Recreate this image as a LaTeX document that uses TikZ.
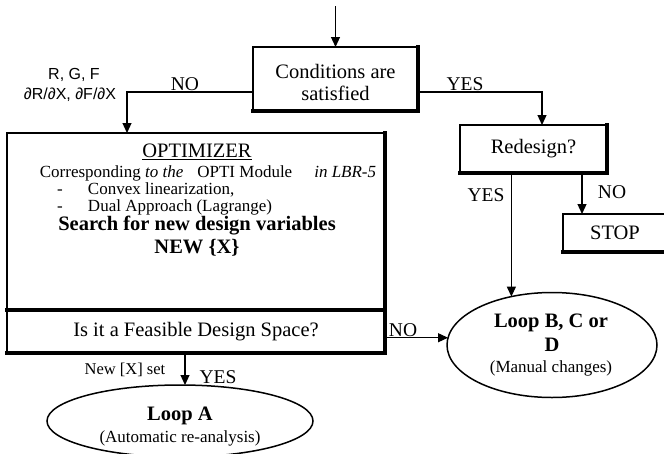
\documentclass[tikz,border=0pt]{standalone}
\usepackage{fontspec}
\setmainfont{Liberation Serif}
\newfontfamily\labelsans{Liberation Sans}
\usetikzlibrary{shapes.geometric,arrows.meta}

\begin{document}
\begin{tikzpicture}[x=1pt,y=-1pt,
  every node/.style={inner sep=0pt, outer sep=0pt},
  big/.style={font=\fontsize{20.5}{22}\selectfont},
  bigb/.style={font=\fontsize{20.5}{22}\selectfont\bfseries},
  mid/.style={font=\fontsize{17}{20}\selectfont},
  sml/.style={font=\fontsize{16.5}{19}\selectfont},
  lbl/.style={font=\fontsize{19.5}{22}\selectfont},
  boxframe/.style={draw, line width=2pt, rectangle},
  heavy/.style={line width=3.6pt, line cap=rect},
  oval/.style={draw, ellipse, line width=1.5pt},
  flow/.style={line width=1.2pt, -{Triangle[length=10pt,width=9pt]}},
]
\useasboundingbox (0,0) rectangle (664,453);
\clip (0,0) rectangle (664,453);

% ---- boxes ----
\node[boxframe, minimum width=165pt, minimum height=64pt] (cond) at (335.5,79) {};
\node[big, align=center] (condtxt) at (335.5,82) {Conditions are\\satisfied};

\node[boxframe, minimum width=378pt, minimum height=177pt] (opt) at (196,221.5) {};
\node[boxframe, minimum width=378pt, minimum height=43pt] (feas) at (196,331.5) {};

\node[boxframe, minimum width=147pt, minimum height=48pt] (redesign) at (533.5,149) {};
\node[big] (redesigntxt) at (533.5,149) {Redesign?};

\node[boxframe, minimum width=108pt, minimum height=38pt] (stop) at (617,233) {};
\node[big] (stoptxt) at (615,233) {STOP};

% heavy right and bottom edges
\draw[heavy] (cond.north east) -- (cond.south east) -- (cond.south west);
\draw[heavy] (opt.north east) -- (opt.south east) -- (opt.south west);
\draw[heavy] (feas.north east) -- (feas.south east) -- (feas.south west);
\draw[heavy] (redesign.north east) -- (redesign.south east) -- (redesign.south west);
\draw[heavy] (stop.south east) -- (stop.south west);

% ---- optimizer contents ----
\node[big] (opttitle) at (197,152) {\underline{OPTIMIZER}};
\node[font=\fontsize{17}{19}\selectfont] (optsub) at (208,173) {Corresponding \textit{to the}\hspace{14pt}OPTI Module\hspace{22pt}\textit{in LBR-5}};
\node[mid, anchor=west] (item1) at (57,190) {\makebox[31pt][l]{-}Convex linearization,};
\node[mid, anchor=west] (item2) at (57,207) {\makebox[31pt][l]{-}Dual Approach (Lagrange)};
\node[bigb] (search) at (197,226) {Search for new design variables};
\node[bigb] (newx) at (197,248) {NEW \{X\}};

\node[big] (feastxt) at (196,332) {Is it a Feasible Design Space?};

% ---- loops ----
\node[oval, minimum width=266pt, minimum height=72pt] (loopA) at (180,421) {};
\node[bigb] (loopAtitle) at (180,416) {Loop A};
\node[mid] (loopAsub) at (180,438) {(Automatic re-analysis)};

\node[oval, minimum width=210pt, minimum height=105pt] (loopB) at (552,345) {};
\node[bigb] (loopBt1) at (551,323) {Loop B, C or};
\node[bigb] (loopBt2) at (552,345) {D};
\node[mid] (loopBsub) at (551,368) {(Manual changes)};

% ---- connectors ----
\coordinate (entry) at (335.5,6);
\draw[flow] (entry) -- (cond.north);

\draw[flow] ([yshift=-13pt]cond.west) -| ([xshift=120pt]opt.north west);
\draw[flow] ([yshift=-13pt]cond.east) -| ([xshift=8.5pt]redesign.north);

\draw[flow] (redesign.south -| loopB.130) -- (loopB.130);
\draw[flow] ([xshift=48.5pt]redesign.south) -- ([xshift=48.5pt]redesign.south |- stop.north);

\draw[flow] (feas.east |- loopB.176) -- (loopB.176);
\draw[flow] ([xshift=-11pt]feas.south) -- ([xshift=-11pt]feas.south |- loopA.north);

% ---- labels ----
\node[font=\labelsans\fontsize{16}{19}\selectfont] (rgf) at (74,75) {R, G, F};
\node[font=\labelsans\fontsize{16}{19}\selectfont] (grad) at (70,95) {∂R/∂X, ∂F/∂X};
\node[lbl] (noA) at (185,84) {NO};
\node[lbl] (yesA) at (465,84) {YES};
\node[lbl] (yesB) at (486,195) {YES};
\node[lbl] (noB) at (612,192) {NO};
\node[lbl] (noC) at (403,330) {NO};
\node[sml] (newset) at (125,370) {New [X] set};
\node[lbl] (yesC) at (218,377) {YES};
\end{tikzpicture}
\end{document}
